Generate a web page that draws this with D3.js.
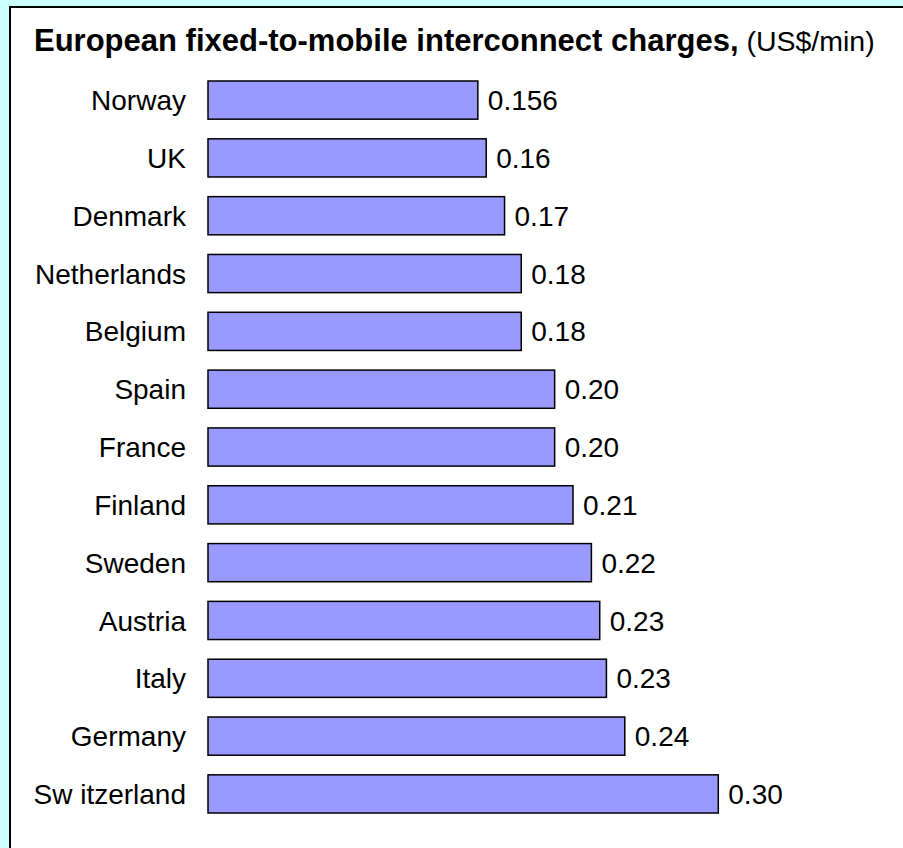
<!DOCTYPE html>
<html>
<head>
<meta charset="utf-8">
<script src="https://cdn.jsdelivr.net/npm/d3@7"></script>
<style>
    body { margin: 0; background: #ccffff; }
    svg { display: block; font-family: Arial, "Liberation Sans", sans-serif; }
</style>
</head>
<body>
<div id="chart"></div>
<script>

// chart data
let countries = ["Norway", "UK", "Denmark", "Netherlands", "Belgium", "Spain", "France",
    "Finland", "Sweden", "Austria", "Italy", "Germany", "Sw itzerland"];
let charges = [0.156, 0.161, 0.172, 0.182, 0.182, 0.202, 0.202, 0.213, 0.224, 0.229, 0.233, 0.244, 0.300];
let valueLabels = ["0.156", "0.16", "0.17", "0.18", "0.18", "0.20", "0.20", "0.21", "0.22", "0.23", "0.23", "0.24", "0.30"];

let width = 903, height = 848;

let svg = d3.select("#chart").append("svg")
    .attr("width", width)
    .attr("height", height);

// white panel with border (runs off the right / bottom edge)
svg.append("rect")
    .attr("x", 10)
    .attr("y", 7)
    .attr("width", 1000)
    .attr("height", 1000)
    .attr("fill", "#ffffff")
    .attr("stroke", "#000000")
    .attr("stroke-width", 2);

// title
let title = svg.append("text")
    .attr("x", 34)
    .attr("y", 51)
    .attr("fill", "#000");
title.append("tspan")
    .attr("font-weight", "bold")
    .attr("font-size", 31)
    .text("European fixed-to-mobile interconnect charges,");
title.append("tspan")
    .attr("font-size", 28.5)
    .text(" (US$/min)");

let data = countries.map((c, i) => ({country: c, value: charges[i], label: valueLabels[i]}));

// scales
let x = d3.scaleLinear()
    .domain([-0.0056, 0.30])
    .range([208, 718.3]);

let y = d3.scaleBand()
    .domain(countries)
    .range([81, 813])
    .paddingInner(0.34);

// bars
svg.selectAll(".bar")
    .data(data)
    .enter().append("rect")
    .attr("class", "bar")
    .attr("x", x(x.domain()[0]))
    .attr("y", d => y(d.country))
    .attr("width", d => x(d.value) - x(x.domain()[0]))
    .attr("height", y.bandwidth())
    .attr("fill", "#9999ff")
    .attr("stroke", "#000")
    .attr("stroke-width", 1.5);

// value labels
svg.selectAll(".value-label")
    .data(data)
    .enter().append("text")
    .attr("class", "value-label")
    .attr("x", d => x(d.value) + 10)
    .attr("y", d => y(d.country) + y.bandwidth() / 2)
    .attr("dy", "0.36em")
    .attr("font-size", 28)
    .text(d => d.label);

// category labels
svg.selectAll(".cat-label")
    .data(data)
    .enter().append("text")
    .attr("class", "cat-label")
    .attr("x", 186)
    .attr("y", d => y(d.country) + y.bandwidth() / 2)
    .attr("dy", "0.36em")
    .attr("text-anchor", "end")
    .attr("font-size", 28)
    .text(d => d.country);

</script>
</body>
</html>
